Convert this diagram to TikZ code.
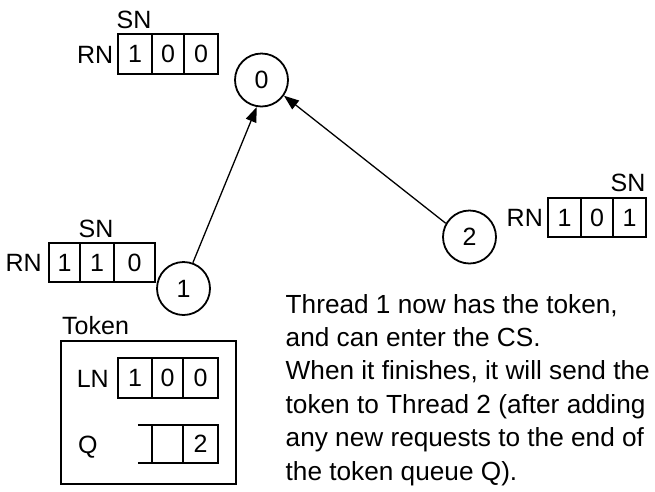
\documentclass[tikz,border=0pt]{standalone}
\usepackage{fontspec}
\setmainfont{Liberation Sans}
\usetikzlibrary{arrows.meta}
\newcommand\lab{\fontsize{25}{30}\selectfont}
\newcommand\para{\fontsize{26.2}{33}\selectfont}
\tikzset{
  cell/.style={draw, line width=1.8pt, inner sep=0pt, minimum height=40pt, font=\lab},
  proc/.style={draw, circle, line width=1.8pt, inner sep=0pt, minimum size=53pt, font=\lab},
  tag/.style={inner sep=0pt, font=\lab},
  txt/.style={inner sep=0pt, anchor=base west, font=\para},
  msg/.style={line width=1.3pt, -{Triangle[length=15pt,width=11pt]}},
}
\begin{document}
\begin{tikzpicture}[x=1pt, y=-1pt]
\useasboundingbox (0,0) rectangle (655,491);

% processes
\node[proc] (p0) at (261.5,80) {0};
\node[proc] (p1) at (183.5,288.5) {1};
\node[proc] (p2) at (469.5,237) {2};

% request messages
\draw[msg] (p1.70) -- (p0.260);
\draw[msg] (p2.150) -- (p0.325);

% RN array of process 0
\node[cell, minimum width=34pt] (a1) at (135,54) {1};
\node[cell, minimum width=32pt] (a2) at (168,54) {0};
\node[cell, minimum width=34pt] (a3) at (201,54) {0};
\node[tag, anchor=base east] (arn) at (113.5,63) {RN};
\node[tag, anchor=base] (asn) at (134,28) {SN};

% RN array of process 1
\node[cell, minimum width=31pt, minimum height=39pt] (b1) at (64.5,262.5) {1};
\node[cell, minimum width=34pt, minimum height=39pt] (b2) at (97,262.5) {1};
\node[cell, minimum width=41pt, minimum height=39pt] (b3) at (134.5,262.5) {0};
\node[tag, anchor=base east] (brn) at (42,271.5) {RN};
\node[tag, anchor=base] (bsn) at (96,237) {SN};

% RN array of process 2
\node[cell, minimum width=33pt, minimum height=39pt] (c1) at (564.5,217.5) {1};
\node[cell, minimum width=32pt, minimum height=39pt] (c2) at (597,217.5) {0};
\node[cell, minimum width=33pt, minimum height=39pt] (c3) at (629.5,217.5) {1};
\node[tag, anchor=base east] (crn) at (543,226.5) {RN};
\node[tag, anchor=base] (csn) at (628,191) {SN};

% token
\node[draw, line width=2.2pt, inner sep=0pt, minimum width=175pt, minimum height=143pt] (tok) at (148.5,412.5) {};
\node[tag, anchor=base west] (toklab) at (62,334) {Token};

\node[cell, minimum width=34pt] (l1) at (135,378) {1};
\node[cell, minimum width=31pt] (l2) at (167.5,378) {0};
\node[cell, minimum width=35pt] (l3) at (200.5,378) {0};
\node[tag, anchor=base east] (lnlab) at (109,387) {LN};

\node[inner sep=0pt, minimum width=14pt, minimum height=38pt] (q0) at (145,444) {};
\node[cell, minimum width=31pt, minimum height=38pt] (q1) at (167.5,444) {};
\node[cell, minimum width=35pt, minimum height=38pt] (q2) at (200.5,444) {2};
\draw[line width=1.8pt] (q0.north west) -- (q0.north east) (q0.south west) -- (q0.south east);
\node[tag, anchor=base west] (qlab) at (78,453) {Q};

% explanation
\node[txt] (t1) at (285.5,313) {Thread 1 now has the token,};
\node[txt] (t2) at (285.5,346.4) {and can enter the CS.};
\node[txt] (t3) at (285.5,379.8) {When it finishes, it will send the};
\node[txt] (t4) at (285.5,413.2) {token to Thread 2 (after adding};
\node[txt] (t5) at (285.5,446.6) {any new requests to the end of};
\node[txt] (t6) at (285.5,480) {the token queue Q).};
\end{tikzpicture}
\end{document}
